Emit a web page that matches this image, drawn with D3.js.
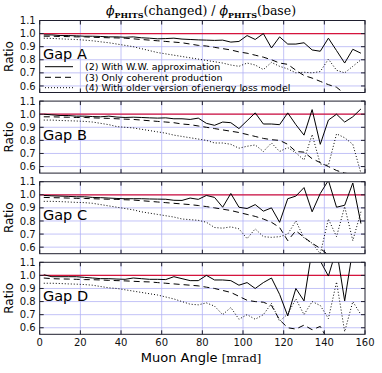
<!DOCTYPE html>
<html>
<head>
<meta charset="utf-8">
<script src="https://cdn.jsdelivr.net/npm/d3@7"></script>
<style>
  body { margin: 0; background: #fff; }
  svg { display: block; }
</style>
</head>
<body>
<svg width="382" height="373"></svg>
<script>
// muon angle bins (mrad)
var angles = [2, 6, 10, 14, 18, 22, 26, 30, 34, 38, 42, 46, 50, 54, 58, 62, 66, 70, 74, 78,
  82, 86, 90, 94, 98, 102, 106, 110, 114, 118, 122, 126, 130, 134, 138, 142, 146, 150, 154, 158];

var gapNames = ["Gap A", "Gap B", "Gap C", "Gap D"];
var legendLabels = ["(2) With W.W. approximation", "(3) Only coherent production",
  "(4) With older version of energy loss model"];
var yTicks = [0.6, 0.7, 0.8, 0.9, 1.0, 1.1];
var xTicks = [0, 20, 40, 60, 80, 100, 120, 140, 160];

var gapA_ww = [0.99, 0.99, 0.985, 0.985, 0.983, 0.98, 0.98, 0.978, 0.975, 0.975, 0.972, 0.975, 0.968, 0.965, 0.96, 0.962, 0.965, 0.958, 0.955, 0.952,
  0.95, 0.948, 0.95, 0.935, 0.94, 0.985, 0.955, 1.0, 0.89, 0.975, 0.92, 0.92, 0.93, 0.875, 0.865, 0.965, 0.87, 0.775, 0.88, 0.85];
var gapA_coh = [0.98, 0.98, 0.978, 0.977, 0.975, 0.975, 0.972, 0.97, 0.968, 0.967, 0.965, 0.96, 0.955, 0.95, 0.945, 0.94, 0.935, 0.93, 0.92, 0.91,
  0.905, 0.895, 0.885, 0.875, 0.86, 0.85, 0.835, 0.82, 0.8, 0.775, 0.765, 0.72, 0.68, 0.66, 0.635, 0.61, 0.59, 0.54, 0.5, 0.48];
var gapA_old = [0.965, 0.963, 0.96, 0.957, 0.955, 0.95, 0.945, 0.937, 0.93, 0.92, 0.91, 0.9, 0.885, 0.87, 0.855, 0.845, 0.835, 0.825, 0.815, 0.805,
  0.795, 0.785, 0.775, 0.76, 0.75, 0.775, 0.76, 0.725, 0.78, 0.75, 0.73, 0.7, 0.705, 0.7, 0.71, 0.805, 0.72, 0.7, 0.75, 0.8];

var gapB_ww = [1.0, 0.995, 0.99, 0.99, 0.985, 0.985, 0.982, 0.98, 0.985, 0.978, 0.975, 0.977, 0.975, 0.972, 0.97, 0.972, 0.965, 0.965, 0.96, 0.97,
  0.93, 0.915, 0.94, 0.935, 0.89, 0.95, 1.01, 0.925, 0.925, 0.92, 1.01, 0.92, 0.84, 1.035, 0.77, 0.955, 1.0, 0.94, 0.98, 1.04];
var gapB_coh = [0.98, 0.98, 0.978, 0.977, 0.975, 0.975, 0.972, 0.97, 0.968, 0.965, 0.962, 0.96, 0.955, 0.95, 0.945, 0.94, 0.935, 0.925, 0.92, 0.91,
  0.9, 0.89, 0.88, 0.87, 0.86, 0.845, 0.83, 0.815, 0.805, 0.8, 0.77, 0.715, 0.71, 0.66, 0.63, 0.6, 0.57, 0.55, 0.54, 0.52];
var gapB_old = [0.955, 0.955, 0.952, 0.95, 0.948, 0.945, 0.94, 0.93, 0.92, 0.905, 0.9, 0.895, 0.885, 0.875, 0.865, 0.855, 0.84, 0.83, 0.82, 0.81,
  0.8, 0.78, 0.78, 0.77, 0.74, 0.755, 0.765, 0.715, 0.78, 0.715, 0.745, 0.705, 0.65, 0.845, 0.62, 0.61, 0.85, 0.82, 0.77, 0.55];

var gapC_ww = [0.995, 0.992, 0.99, 0.988, 0.985, 0.985, 0.98, 0.978, 0.975, 0.972, 0.97, 0.97, 0.97, 0.968, 0.967, 0.966, 0.958, 0.957, 0.975, 0.965,
  0.995, 0.98, 0.905, 1.01, 0.905, 0.895, 0.925, 0.875, 0.9, 0.79, 0.97, 0.99, 1.055, 0.87, 1.01, 1.11, 0.905, 0.92, 1.09, 0.78];
var gapC_coh = [0.98, 0.978, 0.977, 0.975, 0.973, 0.972, 0.97, 0.968, 0.966, 0.965, 0.962, 0.96, 0.955, 0.95, 0.945, 0.94, 0.935, 0.93, 0.925, 0.918,
  0.91, 0.9, 0.89, 0.88, 0.865, 0.85, 0.835, 0.815, 0.79, 0.75, 0.65, 0.725, 0.675, 0.63, 0.59, 0.54, 0.5, 0.48, 0.46, 0.45];
var gapC_old = [0.95, 0.95, 0.948, 0.945, 0.942, 0.94, 0.935, 0.925, 0.915, 0.905, 0.895, 0.885, 0.87, 0.86, 0.85, 0.84, 0.83, 0.815, 0.81, 0.805,
  0.79, 0.75, 0.745, 0.755, 0.74, 0.665, 0.74, 0.68, 0.675, 0.68, 0.7, 0.8, 0.67, 0.63, 0.55, 0.815, 0.68, 0.91, 0.65, 0.87];

var gapD_ww = [1.005, 0.99, 0.99, 0.99, 0.99, 0.985, 0.98, 0.975, 0.975, 0.972, 0.97, 0.98, 0.975, 0.97, 0.97, 0.968, 0.99, 0.975, 0.96, 0.96,
  1.0, 0.965, 0.965, 0.96, 0.925, 0.945, 0.9, 0.945, 0.98, 0.855, 0.69, 0.9, 0.805, 1.2, 1.11, 0.995, 1.2, 0.805, 1.2, 1.25];
var gapD_coh = [0.98, 0.975, 0.973, 0.972, 0.97, 0.968, 0.967, 0.965, 0.962, 0.96, 0.958, 0.955, 0.952, 0.95, 0.945, 0.94, 0.935, 0.93, 0.925, 0.92,
  0.91, 0.9, 0.885, 0.87, 0.84, 0.81, 0.8, 0.795, 0.77, 0.66, 0.6, 0.59, 0.62, 0.585, 0.61, 0.5, 0.48, 0.46, 0.45, 0.44];
var gapD_old = [0.94, 0.94, 0.938, 0.935, 0.933, 0.93, 0.925, 0.915, 0.905, 0.9, 0.89, 0.88, 0.87, 0.86, 0.85, 0.835, 0.82, 0.8, 0.78, 0.775,
  0.79, 0.765, 0.7, 0.755, 0.665, 0.7, 0.665, 0.7, 0.785, 0.65, 0.705, 0.82, 0.7, 0.8, 0.77, 0.67, 0.95, 0.57, 0.8, 0.7];

var panelSeries = [
  [gapA_ww, gapA_coh, gapA_old],
  [gapB_ww, gapB_coh, gapB_old],
  [gapC_ww, gapC_coh, gapC_old],
  [gapD_ww, gapD_coh, gapD_old]
];

var svg = d3.select("svg");

var left = 39.7, plotW = 325.3;
var panelTop = 20.5, panelH = 72, panelStep = 80.6;
var dashes = [null, "6,4", "1,2"];

var x = d3.scaleLinear().domain([0, 160]).range([left, left + plotW]);

var frameColor = "#1e1e2e";
var gridColor = "#b4b4f5";

panelSeries.forEach(function (series, i) {
  var top = panelTop + i * panelStep;
  var y = d3.scaleLinear().domain([0.55, 1.1]).range([top + panelH, top]);
  var g = svg.append("g");

  g.append("clipPath").attr("id", "clip" + i)
    .append("rect")
    .attr("x", left).attr("y", top)
    .attr("width", plotW).attr("height", panelH);

  // grid
  g.selectAll(".vgrid").data(xTicks.slice(1, -1)).enter().append("line")
    .attr("x1", function (d) { return x(d); })
    .attr("x2", function (d) { return x(d); })
    .attr("y1", top).attr("y2", top + panelH)
    .attr("stroke", gridColor).attr("stroke-width", 0.8);
  g.selectAll(".hgrid").data(yTicks.slice(0, -1)).enter().append("line")
    .attr("x1", left).attr("x2", left + plotW)
    .attr("y1", function (d) { return y(d); })
    .attr("y2", function (d) { return y(d); })
    .attr("stroke", gridColor).attr("stroke-width", 0.8);

  // unity line
  g.append("line")
    .attr("x1", left).attr("x2", left + plotW)
    .attr("y1", y(1.0)).attr("y2", y(1.0))
    .attr("stroke", "#d6143c").attr("stroke-width", 1.3);

  var line = d3.line()
    .x(function (d, k) { return x(angles[k]); })
    .y(function (d) { return y(d); });

  var lines = g.append("g").attr("clip-path", "url(#clip" + i + ")");
  series.forEach(function (vals, s) {
    lines.append("path")
      .attr("d", line(vals))
      .attr("fill", "none")
      .attr("stroke", "#000")
      .attr("stroke-width", 1)
      .attr("stroke-dasharray", dashes[s]);
  });

  // inward ticks
  var tl = 4;
  yTicks.forEach(function (t) {
    g.append("line").attr("x1", left).attr("x2", left + tl)
      .attr("y1", y(t)).attr("y2", y(t)).attr("stroke", frameColor);
    g.append("line").attr("x1", left + plotW).attr("x2", left + plotW - tl)
      .attr("y1", y(t)).attr("y2", y(t)).attr("stroke", frameColor);
    g.append("text")
      .attr("x", left - 4).attr("y", y(t) + 3.6)
      .attr("text-anchor", "end")
      .attr("font-family", "DejaVu Sans").attr("font-size", 10)
      .attr("fill", "#111")
      .text(d3.format(".1f")(t));
  });
  xTicks.forEach(function (t) {
    g.append("line").attr("x1", x(t)).attr("x2", x(t))
      .attr("y1", top).attr("y2", top + tl).attr("stroke", frameColor);
    g.append("line").attr("x1", x(t)).attr("x2", x(t))
      .attr("y1", top + panelH).attr("y2", top + panelH - tl).attr("stroke", frameColor);
  });

  g.append("rect")
    .attr("x", left).attr("y", top)
    .attr("width", plotW).attr("height", panelH)
    .attr("fill", "none").attr("stroke", frameColor).attr("stroke-width", 1);

  g.append("text")
    .attr("x", 43).attr("y", top + 38.5)
    .attr("font-family", "DejaVu Sans").attr("font-size", 14.5)
    .attr("fill", "#000")
    .text(gapNames[i]);

  g.append("text")
    .attr("transform", "translate(12.5," + (top + panelH / 2) + ") rotate(-90)")
    .attr("text-anchor", "middle")
    .attr("font-family", "DejaVu Sans").attr("font-size", 12)
    .text("Ratio");

  if (i === 3) {
    xTicks.forEach(function (t) {
      g.append("text")
        .attr("x", x(t)).attr("y", top + panelH + 12)
        .attr("text-anchor", "middle")
        .attr("font-family", "DejaVu Sans").attr("font-size", 10)
        .attr("fill", "#111")
        .text(t);
    });
  }
});

// legend (in Gap A)
var legY = [66.7, 77.3, 87.7];
legendLabels.forEach(function (lab, k) {
  svg.append("line")
    .attr("x1", 45).attr("x2", 73)
    .attr("y1", legY[k]).attr("y2", legY[k])
    .attr("stroke", "#000").attr("stroke-width", 1)
    .attr("stroke-dasharray", dashes[k]);
  svg.append("text")
    .attr("x", 85).attr("y", legY[k] + 3.4)
    .attr("font-family", "DejaVu Sans").attr("font-size", 9.5)
    .text(lab);
});

// title
var title = svg.append("text")
  .attr("x", 201).attr("y", 15)
  .attr("text-anchor", "middle")
  .attr("font-family", "DejaVu Serif").attr("font-size", 12.5);
title.append("tspan").attr("font-style", "italic").text("\u03d5");
title.append("tspan").attr("font-size", 8).attr("font-weight", "bold").attr("dy", 2.5).text("PHITS");
title.append("tspan").attr("dy", -2.5).text("(changed) / ");
title.append("tspan").attr("font-style", "italic").text("\u03d5");
title.append("tspan").attr("font-size", 8).attr("font-weight", "bold").attr("dy", 2.5).text("PHITS");
title.append("tspan").attr("dy", -2.5).text("(base)");

// x axis label
var xl = svg.append("text")
  .attr("x", 201).attr("y", 362)
  .attr("text-anchor", "middle")
  .attr("font-family", "DejaVu Sans").attr("font-size", 13);
xl.append("tspan").text("Muon Angle ");
xl.append("tspan").attr("font-family", "DejaVu Serif").attr("font-size", 11.5).text("[mrad]");
</script>
</body>
</html>
